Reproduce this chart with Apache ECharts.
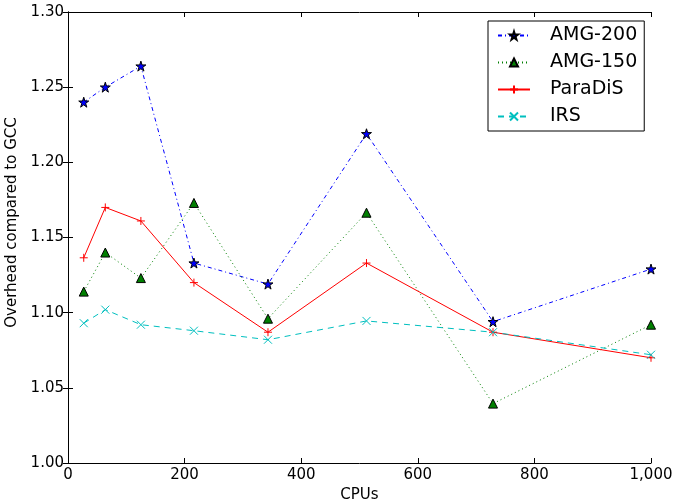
<!DOCTYPE html>
<html>
<head>
<meta charset="utf-8">
<script src="https://cdn.jsdelivr.net/npm/echarts@6/dist/echarts.min.js"></script>
<style>
html,body{margin:0;padding:0;background:#fff;}
#c{width:674px;height:504px;}
</style>
</head>
<body>
<div id="c"></div>
<script>
const cpus = [27, 64, 125, 216, 343, 512, 729, 1000];
const amg200 = [1.240, 1.250, 1.264, 1.133, 1.119, 1.219, 1.094, 1.129];
const amg150 = [1.114, 1.140, 1.123, 1.173, 1.096, 1.1665, 1.0395, 1.092];
const paradis = [1.1365, 1.170, 1.161, 1.120, 1.087, 1.133, 1.087, 1.070];
const irs = [1.093, 1.102, 1.092, 1.088, 1.082, 1.0945, 1.087, 1.072];
const seriesNames = ['AMG-200', 'AMG-150', 'ParaDiS', 'IRS'];

const FONT = 'DejaVu Sans';
const starPath = 'path://M0,-1 L0.2245,-0.309 L0.951,-0.309 L0.363,0.118 L0.588,0.809 L0,0.382 L-0.588,0.809 L-0.363,0.118 L-0.951,-0.309 L-0.2245,-0.309 Z';
const plusPath = 'path://M0,-1 L0,1 M-1,0 L1,0';
const xPath = 'path://M-1,-1 L1,1 M-1,1 L1,-1';

function pairs(ys){ return cpus.map((x,i)=>[x, ys[i]]); }

const chart = echarts.init(document.getElementById('c'));
const axisCommon = {
  axisLine: {show: true, lineStyle: {color: '#000', width: 1}},
  axisTick: {show: true, inside: true, length: 5, lineStyle: {color: '#000'}},
  splitLine: {show: false}
};
chart.setOption({
  animation: false,
  backgroundColor: '#fff',
  textStyle: {fontFamily: FONT},
  grid: {left: 68, right: 23, top: 12, bottom: 41, containLabel: false, outerBoundsMode: 'none'},
  xAxis: [
    Object.assign({
      type: 'value', min: 0, max: 1000, interval: 200,
      name: 'CPUs', nameLocation: 'middle', nameGap: 23,
      nameTextStyle: {fontFamily: FONT, fontSize: 15, color: '#000'},
      axisLabel: {fontFamily: FONT, fontSize: 15, color: '#000', margin: 5}
    }, axisCommon),
    Object.assign({
      type: 'value', min: 0, max: 1000, interval: 200, position: 'top',
      axisLabel: {show: false}
    }, axisCommon)
  ],
  yAxis: [
    Object.assign({
      type: 'value', min: 1.0, max: 1.3, interval: 0.05,
      name: 'Overhead compared to GCC', nameLocation: 'middle', nameGap: 38,
      nameTextStyle: {fontFamily: FONT, fontSize: 15, color: '#000', padding: [0, 0, 0, 30]},
      axisLabel: {fontFamily: FONT, fontSize: 15, color: '#000', margin: 4,
        formatter: v => v.toFixed(2)}
    }, axisCommon),
    Object.assign({
      type: 'value', min: 1.0, max: 1.3, interval: 0.05, position: 'right',
      axisLabel: {show: false}
    }, axisCommon)
  ],
  legend: {
    orient: 'vertical', left: 488, top: 21,
    padding: [5, 7, 5, 9],
    borderColor: '#000', borderWidth: 1, backgroundColor: '#fff',
    itemWidth: 32, itemHeight: 10, itemGap: 8,
    textStyle: {fontFamily: FONT, fontSize: 19, color: '#000', padding: [0, 0, 0, 15]},
    data: seriesNames
  },
  series: [
    {
      name: seriesNames[0], type: 'line', data: pairs(amg200),
      symbol: starPath, symbolSize: 10,
      itemStyle: {color: '#0000ff', borderColor: '#000', borderWidth: 1},
      lineStyle: {color: '#0000ff', width: 1, type: [4, 3, 1, 3]}
    },
    {
      name: seriesNames[1], type: 'line', data: pairs(amg150),
      symbol: 'triangle', symbolSize: 9,
      itemStyle: {color: '#007f00', borderColor: '#000', borderWidth: 1},
      lineStyle: {color: '#007f00', width: 1, type: [1, 3]}
    },
    {
      name: seriesNames[2], type: 'line', data: pairs(paradis),
      symbol: plusPath, symbolSize: 8,
      itemStyle: {color: 'rgba(0,0,0,0)', borderColor: '#ff0000', borderWidth: 1},
      lineStyle: {color: '#ff0000', width: 1, type: 'solid'}
    },
    {
      name: seriesNames[3], type: 'line', data: pairs(irs),
      symbol: xPath, symbolSize: 8,
      itemStyle: {color: 'rgba(0,0,0,0)', borderColor: '#00bfbf', borderWidth: 1},
      lineStyle: {color: '#00bfbf', width: 1, type: [6, 5]}
    }
  ]
});
</script>
</body>
</html>
